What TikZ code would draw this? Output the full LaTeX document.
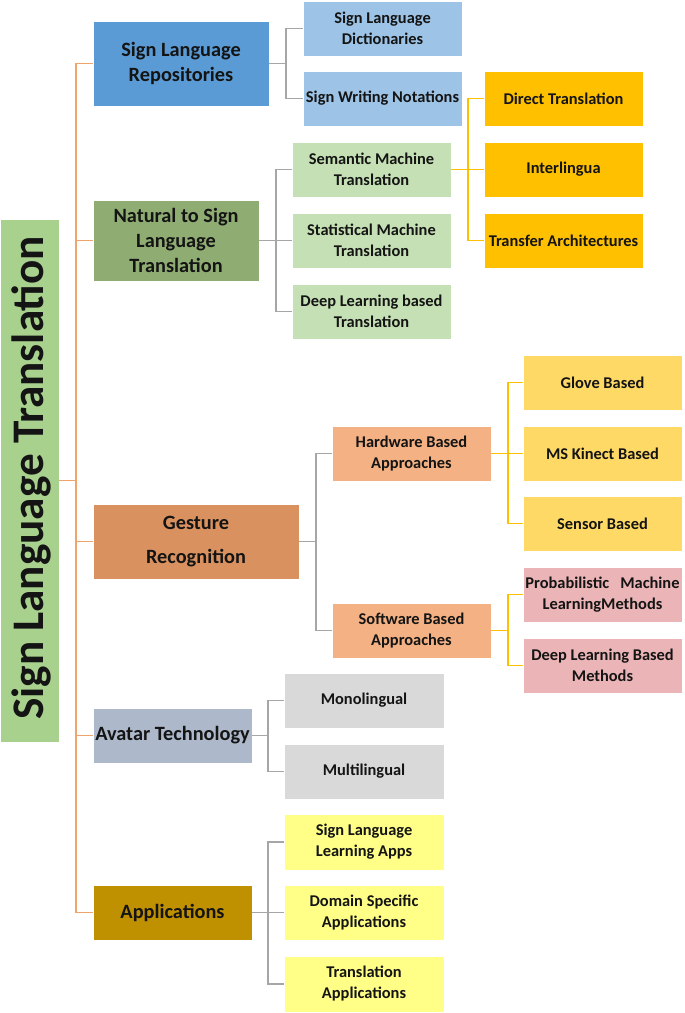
\documentclass[tikz,border=0pt]{standalone}
\usepackage{fontspec}
\setmainfont{Carlito}
\definecolor{rootc}{HTML}{A9D18E}
\definecolor{repc}{HTML}{5B9BD5}
\definecolor{repkid}{HTML}{9DC3E6}
\definecolor{natc}{HTML}{8FAD73}
\definecolor{natkid}{HTML}{C5E0B4}
\definecolor{semkid}{HTML}{FFC000}
\definecolor{gesc}{HTML}{D9915F}
\definecolor{geskid}{HTML}{F4B183}
\definecolor{hwkid}{HTML}{FFD966}
\definecolor{swkid}{HTML}{EBB4B6}
\definecolor{avac}{HTML}{ADB9CA}
\definecolor{avakid}{HTML}{D9D9D9}
\definecolor{appc}{HTML}{BF9000}
\definecolor{appkid}{HTML}{FFFF88}
\definecolor{trunkc}{HTML}{F0A46C}
\definecolor{grayln}{HTML}{A6A6A6}
\definecolor{goldln}{HTML}{FFC000}
\definecolor{txt}{HTML}{141414}
\tikzset{
  box/.style={inner sep=0pt, align=center, text=txt, draw=white, line width=0.6pt},
  lone/.style={box, minimum height=55pt, font=\bfseries\fontsize{20.3}{25}\selectfont},
  ltwo/.style={box, minimum width=159pt, minimum height=55pt, font=\bfseries\fontsize{16.4}{21}\selectfont},
  trunkline/.style={draw=trunkc, line width=1.1pt},
  grayline/.style={draw=grayln, line width=1.1pt},
  goldline/.style={draw=goldln, line width=1.1pt}
}
\begin{document}
\begin{tikzpicture}[x=1pt,y=-1pt]
\useasboundingbox (0,0) rectangle (685,1013);
% root
\node[box, fill=rootc, minimum width=59pt, minimum height=523pt] (root) at (29.5,480.5) {};
\node[rotate=90, text=txt, font=\bfseries\fontsize{45.2}{50}\selectfont, inner sep=0pt] (roottxt) at (31,478) {Sign Language Translation};
% level 1
\node[lone, fill=repc, minimum width=176pt, minimum height=85pt] (rep) at (181,63.5) {Sign Language\\Repositories};
\node[lone, fill=natc, minimum width=166pt, minimum height=81pt] (nat) at (176,240.5) {Natural to Sign\\Language\\Translation};
\node[lone, fill=gesc, minimum width=206pt, minimum height=75pt] (ges) at (196,541.5) {Gesture\\[9pt]Recognition};
\node[lone, fill=avac, minimum width=159pt] (ava) at (172.5,735.5) {Avatar Technology};
\node[lone, fill=appc, minimum width=159pt] (app) at (172.5,912.5) {Applications};
% repositories children
\node[ltwo, fill=repkid] (dict) at (382.5,28.5) {Sign Language\\Dictionaries};
\node[ltwo, fill=repkid] (writ) at (382.5,98.5) {Sign Writing Notations};
% natural children
\node[ltwo, fill=natkid] (sem) at (371.5,169.5) {Semantic Machine\\Translation};
\node[ltwo, fill=natkid] (stat) at (371.5,240.5) {Statistical Machine\\Translation};
\node[ltwo, fill=natkid] (deep) at (371.5,311.5) {Deep Learning based\\Translation};
% semantic children
\node[ltwo, fill=semkid] (direct) at (563.5,98.5) {Direct Translation};
\node[ltwo, fill=semkid] (inter) at (563.5,169.5) {Interlingua};
\node[ltwo, fill=semkid] (transfer) at (563.5,240.5) {Transfer Architectures};
% gesture children
\node[ltwo, fill=geskid] (hw) at (411.5,453.5) {Hardware Based\\Approaches};
\node[ltwo, fill=geskid] (sw) at (411.5,630.5) {Software Based\\Approaches};
% hardware children
\node[ltwo, fill=hwkid] (glove) at (602.5,382.5) {Glove Based};
\node[ltwo, fill=hwkid] (kinect) at (602.5,453.5) {MS Kinect Based};
\node[ltwo, fill=hwkid] (sensor) at (602.5,523.5) {Sensor Based};
% software children
\node[ltwo, fill=swkid] (prob) at (602.5,594.5) {Probabilistic\hspace{0.45em} Machine\\LearningMethods};
\node[ltwo, fill=swkid] (dlm) at (602.5,665.5) {Deep Learning Based\\Methods};
% avatar children
\node[ltwo, fill=avakid, minimum width=160pt] (mono) at (364,700.5) {Monolingual};
\node[ltwo, fill=avakid, minimum width=160pt] (multi) at (364,771.5) {Multilingual};
% applications children
\node[ltwo, fill=appkid, minimum width=160pt, minimum height=56pt] (sll) at (364,842) {Sign Language\\Learning Apps};
\node[ltwo, fill=appkid, minimum width=160pt] (dom) at (364,912.5) {Domain Specific\\Applications};
\node[ltwo, fill=appkid, minimum width=160pt, minimum height=56pt] (trans) at (364,984) {Translation\\Applications};
% buses
\coordinate (trunk) at (76,480.5);
\coordinate (repbus) at (286,63.5);
\coordinate (natbus) at (276,240.5);
\coordinate (sembus) at (468,169.5);
\coordinate (gesbus) at (316,541.5);
\coordinate (hwbus) at (508,453.5);
\coordinate (swbus) at (508,630.5);
\coordinate (avabus) at (268,735.5);
\coordinate (appbus) at (268,912.5);
% trunk connectors
\draw[trunkline] (root.east) -- (trunk);
\draw[trunkline] (trunk) |- (rep.west);
\draw[trunkline] (trunk) |- (nat.west);
\draw[trunkline] (trunk) |- (ges.west);
\draw[trunkline] (trunk) |- (ava.west);
\draw[trunkline] (trunk) |- (app.west);
% gray connectors
\draw[grayline] (rep.east) -- (repbus);
\draw[grayline] (repbus) |- (dict.west);
\draw[grayline] (repbus) |- (writ.west);
\draw[grayline] (nat.east) -- (natbus);
\draw[grayline] (natbus) |- (sem.west);
\draw[grayline] (natbus) |- (stat.west);
\draw[grayline] (natbus) |- (deep.west);
\draw[grayline] (ges.east) -- (gesbus);
\draw[grayline] (gesbus) |- (hw.west);
\draw[grayline] (gesbus) |- (sw.west);
\draw[grayline] (ava.east) -- (avabus);
\draw[grayline] (avabus) |- (mono.west);
\draw[grayline] (avabus) |- (multi.west);
\draw[grayline] (app.east) -- (appbus);
\draw[grayline] (appbus) |- (sll.west);
\draw[grayline] (appbus) |- (dom.west);
\draw[grayline] (appbus) |- (trans.west);
% gold connectors
\draw[goldline] (sem.east) -- (sembus);
\draw[goldline] (sembus) |- (direct.west);
\draw[goldline] (sembus) |- (inter.west);
\draw[goldline] (sembus) |- (transfer.west);
\draw[goldline] (hw.east) -- (hwbus);
\draw[goldline] (hwbus) |- (glove.west);
\draw[goldline] (hwbus) |- (kinect.west);
\draw[goldline] (hwbus) |- (sensor.west);
\draw[goldline] (sw.east) -- (swbus);
\draw[goldline] (swbus) |- (prob.west);
\draw[goldline] (swbus) |- (dlm.west);
\end{tikzpicture}
\end{document}
